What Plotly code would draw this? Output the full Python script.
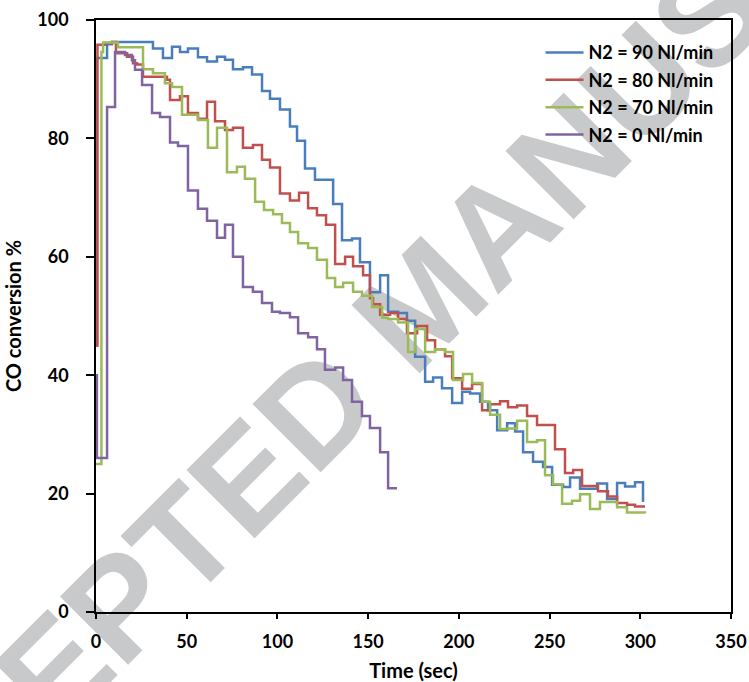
import plotly.graph_objects as go

# ---- data ----
t_90 = [0, 0.5, 6.1, 8.8, 31.4, 36.9, 41.9, 46.3, 50.7, 56.2, 61.2, 66.7, 71.1, 75.5, 81.0, 86.0,
        91.5, 95.9, 101.4, 106.9, 110.8, 115.2, 120.7, 130.7, 135.6, 141.1, 145.5, 151.0, 156.6,
        161.0, 166.5, 171.4, 175.9, 181.4, 185.8, 190.7, 196.3, 201.8, 206.2, 211.7, 216.1, 221.1,
        226.6, 231.0, 235.4, 240.9, 246.4, 251.4, 257.4, 261.3, 266.8, 276.2, 281.7, 287.2, 291.6,
        297.1, 301.5]
co_90 = [45, 93.6, 95.9, 96.3, 95.2, 93.6, 95.5, 94.6, 95.2, 93.7, 93.0, 93.8, 93.3, 91.7, 92.0, 90.8,
         88.0, 86.7, 84.9, 82.0, 79.6, 74.9, 73.0, 68.9, 62.8, 63.1, 59.1, 54.0, 56.9,
         50.7, 50.5, 49.2, 43.1, 38.9, 39.6, 37.8, 35.3, 37.2, 36.9, 35.5, 34.1, 30.7,
         31.9, 30.5, 27.0, 25.4, 24.5, 21.5, 21.1, 22.7, 20.8, 21.7, 19.1, 21.8, 21.2,
         21.9, 18.6]

t_80 = [0, 0.8, 5.0, 8.8, 11.0, 17.1, 20.4, 22.6, 25.9, 39.1, 40.8, 46.3, 50.7, 56.2, 61.2, 65.6,
        71.1, 75.5, 81.0, 86.5, 91.5, 95.9, 101.4, 106.9, 111.9, 116.9, 121.8, 126.8, 131.8, 137.3,
        141.7, 147.2, 151.0, 152.7, 156.6, 162.1, 166.5, 171.4, 177.0, 182.5, 186.9, 192.4, 196.3,
        201.8, 207.3, 212.8, 217.2, 222.7, 227.1, 232.1, 237.6, 243.1, 253.0, 258.5, 263.0, 267.9,
        276.7, 282.2, 287.2, 292.7, 297.1, 302.6]
co_80 = [45, 95.8, 96.1, 96.3, 94.4, 93.8, 92.7, 92.5, 90.4, 89.9, 86.5, 87.1, 84.3, 83.3, 86.2, 82.9,
         81.4, 81.8, 78.4, 78.9, 76.4, 75.1, 70.7, 69.5, 70.8, 68.2, 67.0, 65.4, 58.8, 60.0,
         58.4, 56.9, 53.0, 52.0, 50.2, 50.5, 49.5, 47.1, 48.3, 45.9, 44.4, 43.2, 39.5,
         37.7, 38.5, 34.1, 35.1, 35.6, 34.6, 34.9, 33.1, 31.6, 27.5, 23.5, 24.0, 21.3,
         20.4, 19.5, 18.4, 18.1, 17.8, 17.8]

t_70 = [0, 3.0, 3.9, 12.1, 25.9, 31.4, 38.0, 41.9, 47.4, 56.2, 61.7, 66.7, 72.2, 77.7, 82.1, 87.7,
        92.6, 97.6, 102.5, 106.9, 111.4, 116.9, 121.8, 127.3, 131.8, 136.2, 141.7, 146.6, 152.2,
        157.7, 161.0, 166.5, 172.0, 175.9, 181.4, 186.9, 192.4, 196.8, 202.3, 207.3, 212.8, 217.2,
        222.7, 227.1, 232.1, 237.6, 243.1, 247.5, 251.9, 256.9, 262.4, 266.8, 272.3, 277.8, 287.2,
        292.7, 302.6]
co_70 = [25, 94.6, 96.2, 95.4, 91.7, 91.0, 89.3, 88.7, 84.0, 83.1, 78.4, 81.8, 74.3, 75.2, 73.2, 69.3,
         67.9, 67.2, 65.7, 64.2, 62.3, 61.5, 59.5, 56.4, 54.9, 55.6, 54.1, 53.4, 51.5,
         49.7, 49.5, 48.9, 43.9, 47.8, 43.9, 44.4, 43.9, 39.2, 40.2, 38.7, 35.5, 33.3,
         30.9, 31.0, 32.3, 28.7, 29.0, 23.1, 21.6, 18.3, 18.8, 19.9, 17.4, 18.6, 17.7,
         16.8, 16.7]

t_0 = [0, 0.5, 6.1, 10.5, 16.0, 19.8, 21.5, 25.4, 30.9, 35.3, 40.8, 45.2, 50.7, 56.2, 61.2, 66.7,
       71.1, 75.5, 81.0, 86.5, 91.5, 97.0, 101.4, 106.9, 111.4, 116.9, 121.8, 126.2, 131.8, 136.2,
       141.1, 146.6, 151.0, 156.6, 161.0, 165.9]
co_0 = [40, 26.0, 85.3, 94.6, 94.1, 93.2, 91.6, 89.0, 84.3, 83.6, 79.3, 78.7, 71.2, 68.1, 66.1, 63.2,
        65.4, 60.0, 54.9, 54.1, 52.2, 50.7, 50.5, 49.8, 47.1, 46.4, 44.4, 40.9, 41.3, 39.2,
        35.5, 33.1, 31.1, 27.0, 20.9, 20.9]

series_names = ["N2 = 90 Nl/min", "N2 = 80 Nl/min", "N2 = 70 Nl/min", "N2 = 0 Nl/min"]
series_t = [t_90, t_80, t_70, t_0]
series_co = [co_90, co_80, co_70, co_0]
series_colors = ["#4A7EBB", "#C0504D", "#9BBB59", "#8064A2"]

x_ticks = [0, 50, 100, 150, 200, 250, 300, 350]
y_ticks = [0, 20, 40, 60, 80, 100]

FONT = "Lato"

fig = go.Figure()
for name, xs, ys, col in zip(series_names, series_t, series_co, series_colors):
    fig.add_trace(go.Scatter(x=xs, y=ys, mode="lines", name=name, legendgroup=name,
                             line=dict(color=col, width=2.5, shape="hv")))

axis_common = dict(showline=True, linecolor="black", linewidth=1.5, mirror=True,
                   showgrid=False, zeroline=False, ticks="outside", tickcolor="black",
                   tickwidth=1.5, automargin=False,
                   tickfont=dict(family=FONT, size=18, color="black", weight="bold"))

fig.update_xaxes(range=[0, 350], tickvals=x_ticks, ticklen=5, ticklabelstandoff=8,
                 title=dict(text="Time (sec)", font=dict(family=FONT, size=20, color="black", weight="bold"),
                            standoff=17),
                 **axis_common)
fig.update_yaxes(range=[0, 100], tickvals=y_ticks, ticklen=8, ticklabelstandoff=14,
                 title=dict(text="CO conversion %", font=dict(family=FONT, size=20, color="black", weight="bold"),
                            standoff=10),
                 **axis_common)

# watermark (drawn below the data)
fig.add_shape(type="rect", xref="paper", yref="paper", x0=0.40, x1=0.60, y0=0.44, y1=0.64,
              line=dict(width=0), fillcolor="rgba(0,0,0,0)", layer="below",
              label=dict(text="ACCEPTED MANUSCRIPT", textangle=-45, textposition="middle center",
                         font=dict(family="Liberation Sans", size=140, color="#c8c9ca", weight="bold")))

fig.update_layout(
    width=749, height=682,
    margin=dict(l=96, r=18, t=20, b=70, autoexpand=False),
    paper_bgcolor="white", plot_bgcolor="rgba(0,0,0,0)",
    showlegend=True,
    legend=dict(x=0.700, y=0.976, xanchor="left", yanchor="top", bgcolor="rgba(0,0,0,0)",
                font=dict(family=FONT, size=18, color="black", weight="bold"),
                tracegroupgap=1, itemwidth=38),
)

fig.write_html("out.html")
